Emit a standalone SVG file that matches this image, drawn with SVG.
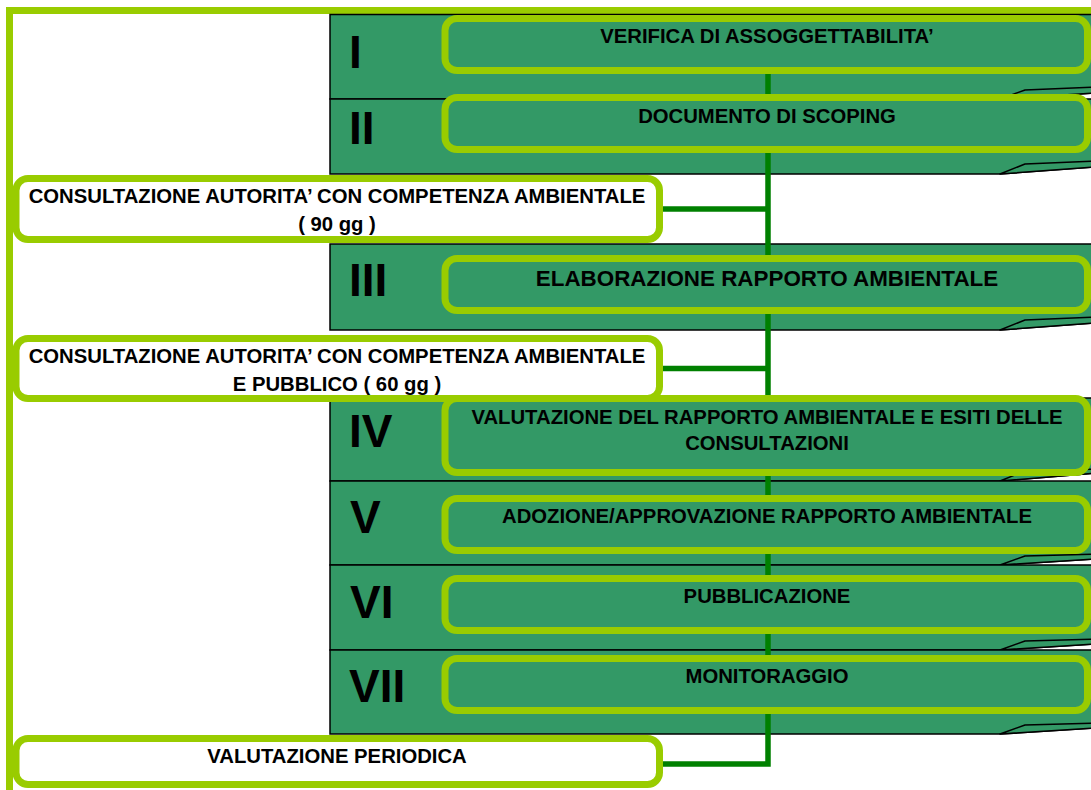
<svg xmlns="http://www.w3.org/2000/svg" width="1091" height="790" viewBox="0 0 1091 790">
<style>
.band{fill:#339966;stroke:#000;stroke-width:1.5}
.flap{fill:#339966;stroke:#000;stroke-width:1.5;stroke-linejoin:round}
.step{fill:#339966;stroke:#99cc00;stroke-width:7}
.cons{fill:#ffffff;stroke:#99cc00;stroke-width:7}
.num{font-family:"Liberation Sans",Arial,sans-serif;font-weight:bold;font-size:46px;fill:#000}
.lbl{font-family:"Liberation Sans",Arial,sans-serif;font-weight:bold;font-size:20.3px;fill:#000;text-anchor:middle}
.conn{fill:none;stroke:#008000;stroke-width:5.5}
</style>
<rect x="0" y="0" width="1091" height="790" fill="#ffffff"/>
<rect id="frame" x="9.5" y="10.5" width="1100" height="800" fill="none" stroke="#99cc00" stroke-width="7"/>

<g id="band-I">
<path class="band" d="M330,14.5 H1096 V93 L1000,99 H330 Z"/>
<path class="flap" d="M1000,99 L1025,90 L1096,87 V93 Z"/>
<text class="num" x="349" y="68">I</text>
</g>
<g id="band-II">
<path class="band" d="M330,99 H1096 V167 L1000,174 H330 Z"/>
<path class="flap" d="M1000,174 L1025,164 L1096,161 V167 Z"/>
<text class="num" x="349" y="143.5">II</text>
</g>
<g id="band-III">
<path class="band" d="M330,244 H1096 V323 L1000,330 H330 Z"/>
<path class="flap" d="M1000,330 L1025,320 L1096,317 V323 Z"/>
<text class="num" x="349" y="296">III</text>
</g>
<g id="band-IV">
<path class="band" d="M330,398 H1096 V473 L1000,481 H330 Z"/>
<path class="flap" d="M1000,481 L1025,471 L1096,469 V473 Z"/>
<text class="num" x="349" y="447">IV</text>
</g>
<g id="band-V">
<path class="band" d="M330,481 H1096 V559 L1000,565 H330 Z"/>
<path class="flap" d="M1000,565 L1025,556 L1096,554 V559 Z"/>
<text class="num" x="350" y="533">V</text>
</g>
<g id="band-VI">
<path class="band" d="M330,565 H1096 V644 L1000,650 H330 Z"/>
<path class="flap" d="M1000,650 L1025,641 L1096,639 V644 Z"/>
<text class="num" x="350" y="618">VI</text>
</g>
<g id="band-VII">
<path class="band" d="M330,650 H1096 V728 L1000,734 H330 Z"/>
<path class="flap" d="M1000,734 L1025,725 L1096,723 V728 Z"/>
<text class="num" x="349" y="702">VII</text>
</g>

<g id="connectors">
<path class="conn" d="M768,70 V764 H660"/>
<path class="conn" d="M660,209 H768"/>
<path class="conn" d="M660,368.5 H768"/>
</g>

<g id="step-I">
<rect class="step" x="445" y="18.5" width="642.5" height="52" rx="12"/>
<text class="lbl" x="767" y="43">VERIFICA DI ASSOGGETTABILITA’</text>
</g>
<g id="step-II">
<rect class="step" x="445" y="97.5" width="642.5" height="52" rx="12"/>
<text class="lbl" x="767" y="123">DOCUMENTO DI SCOPING</text>
</g>
<g id="step-III">
<rect class="step" x="445" y="258.5" width="642.5" height="52" rx="12"/>
<text class="lbl" x="767" y="286" style="font-size:22.4px">ELABORAZIONE RAPPORTO AMBIENTALE</text>
</g>
<g id="step-IV">
<rect class="step" x="445" y="398.5" width="642.5" height="74" rx="12"/>
<text class="lbl" x="767" y="424">VALUTAZIONE DEL RAPPORTO AMBIENTALE E ESITI DELLE</text>
<text class="lbl" x="767" y="450">CONSULTAZIONI</text>
</g>
<g id="step-V">
<rect class="step" x="445" y="498.5" width="642.5" height="52" rx="12"/>
<text class="lbl" x="767" y="523">ADOZIONE/APPROVAZIONE RAPPORTO AMBIENTALE</text>
</g>
<g id="step-VI">
<rect class="step" x="445" y="578.5" width="642.5" height="52" rx="12"/>
<text class="lbl" x="767" y="603">PUBBLICAZIONE</text>
</g>
<g id="step-VII">
<rect class="step" x="445" y="658.5" width="642.5" height="52" rx="12"/>
<text class="lbl" x="767" y="683">MONITORAGGIO</text>
</g>

<g id="consultation-90">
<rect class="cons" x="16" y="178.5" width="643.5" height="61" rx="12"/>
<text class="lbl" x="337" y="203">CONSULTAZIONE AUTORITA’ CON COMPETENZA AMBIENTALE</text>
<text class="lbl" x="337" y="231">( 90 gg )</text>
</g>
<g id="consultation-60">
<rect class="cons" x="16" y="338.5" width="643.5" height="60" rx="12"/>
<text class="lbl" x="337" y="363">CONSULTAZIONE AUTORITA’ CON COMPETENZA AMBIENTALE</text>
<text class="lbl" x="337" y="391">E PUBBLICO ( 60 gg )</text>
</g>
<g id="valutazione-periodica">
<rect class="cons" x="16" y="738.5" width="643.5" height="46" rx="12"/>
<text class="lbl" x="337" y="763">VALUTAZIONE PERIODICA</text>
</g>
</svg>
